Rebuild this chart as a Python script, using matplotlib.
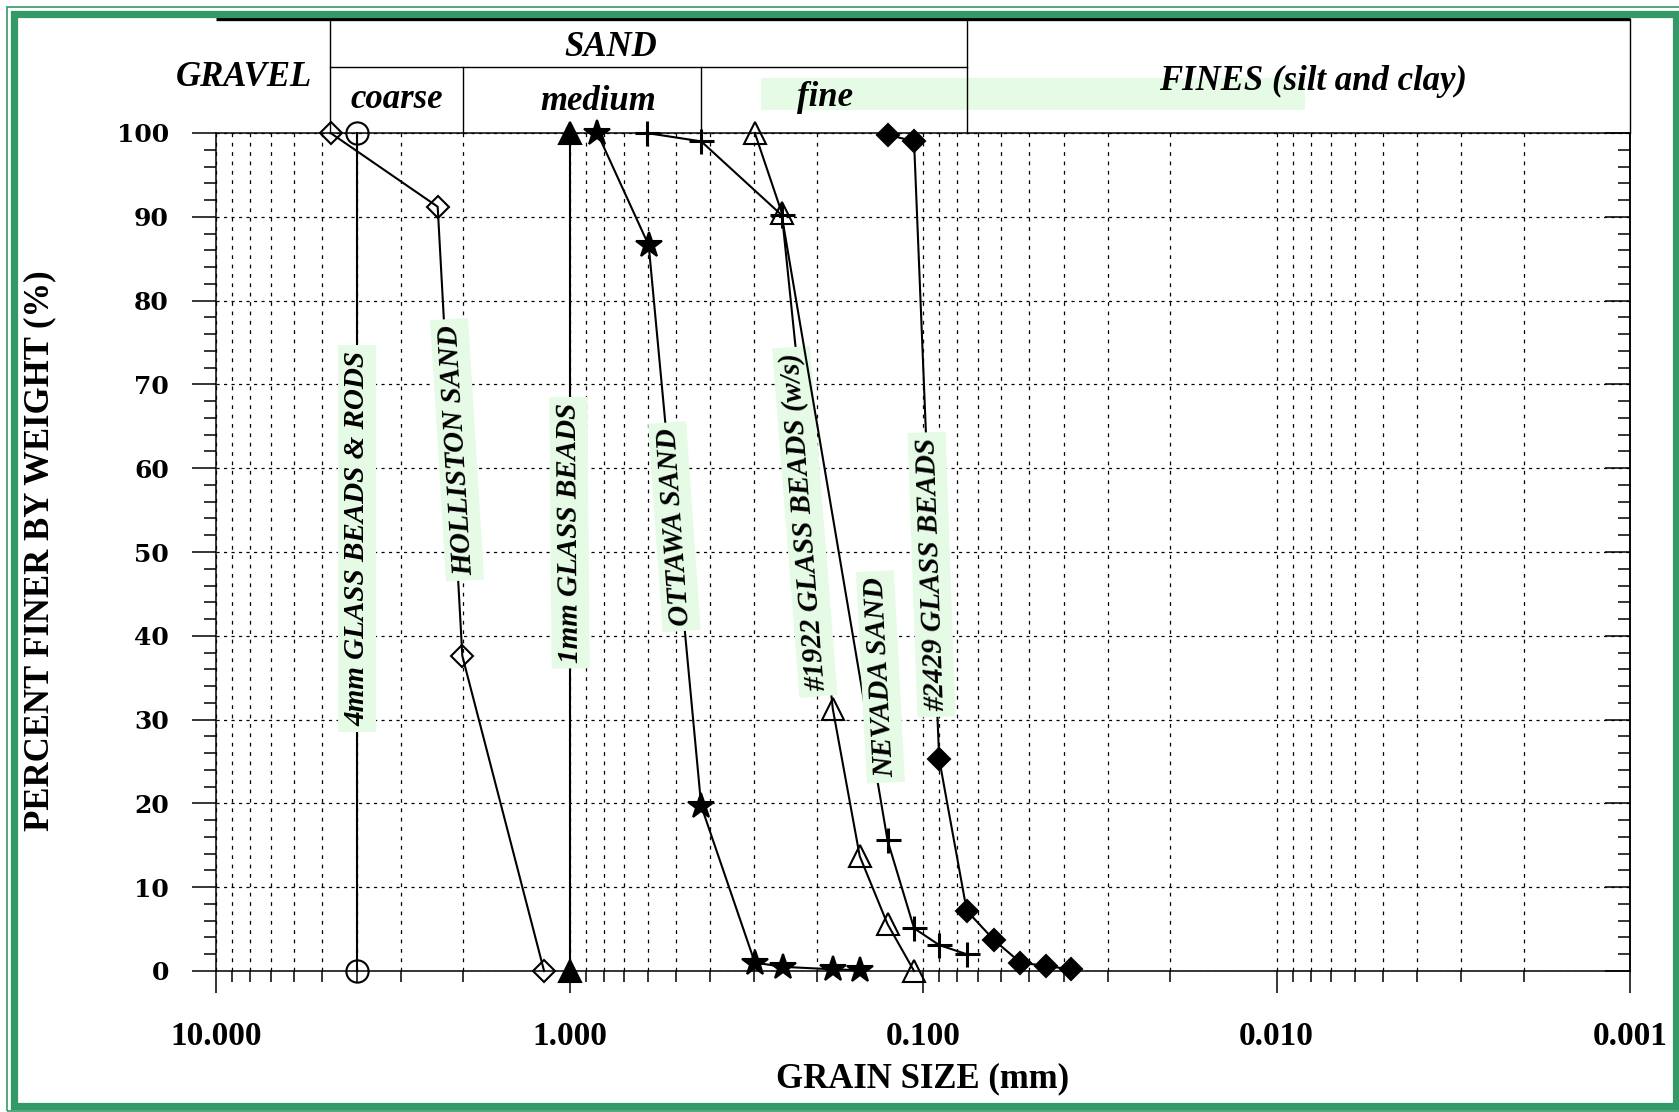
import matplotlib
matplotlib.use("Agg")
import matplotlib.pyplot as plt
from matplotlib.ticker import FixedLocator, MultipleLocator, NullFormatter
from matplotlib.patches import Rectangle

# grain size (mm) and percent finer by weight for each material
gb4_size = [4.0, 4.0]
gb4_pct = [100, 0]
holliston_size = [4.74, 2.36, 2.01, 1.18]
holliston_pct = [100, 91.2, 37.6, 0]
gb1_size = [1.0, 1.0]
gb1_pct = [100, 0]
ottawa_size = [0.834, 0.597, 0.424, 0.299, 0.249, 0.180, 0.151]
ottawa_pct = [100, 86.6, 19.7, 1.0, 0.5, 0.2, 0.1]
gb1922_size = [0.299, 0.251, 0.180, 0.151, 0.126, 0.106]
gb1922_pct = [100, 90.5, 31.3, 13.7, 5.6, 0]
nevada_size = [0.605, 0.424, 0.251, 0.126, 0.106, 0.090, 0.0752]
nevada_pct = [100, 99.0, 90.2, 15.6, 5.1, 3.1, 2.0]
gb2429_size = [0.126, 0.106, 0.090, 0.0752, 0.063, 0.053, 0.0449, 0.0382]
gb2429_pct = [99.8, 99.0, 25.3, 7.2, 3.7, 1.0, 0.6, 0.2]

# soil classes (boundaries in mm)
gravel_sand = 4.75
coarse_medium = 2.0
medium_fine = 0.425
sand_fines = 0.075

xtick_vals = [10, 1, 0.1, 0.01, 0.001]
xtick_labels = ["10.000", "1.000", "0.100", "0.010", "0.001"]

SERIF = "Liberation Serif"
GREEN = "#339966"
LABEL_BG = "#e5fbe5"

W, H = 1679, 1112
fig = plt.figure(figsize=(W / 100, H / 100), dpi=100)
fig.patch.set_facecolor("white")

def px(x, y):
    """pixel (from top-left) to figure fraction"""
    return x / W, 1 - y / H

ax = fig.add_axes([216 / W, 1 - 971 / H, (1630 - 216) / W, (971 - 133) / H])
ax.set_xscale("log")
ax.set_xlim(10, 0.001)
ax.set_ylim(0, 100)

ax.xaxis.set_major_locator(FixedLocator(xtick_vals))
ax.xaxis.set_minor_locator(FixedLocator(
    [m * 10.0 ** e for e in range(-3, 1) for m in range(2, 10)]))
ax.xaxis.set_minor_formatter(NullFormatter())
ax.set_xticklabels(xtick_labels)
ax.yaxis.set_major_locator(MultipleLocator(10))
ax.yaxis.set_minor_locator(MultipleLocator(2))

ax.grid(which="both", axis="x", color="black", linestyle=(0, (3, 4.5)), linewidth=0.9)
ax.grid(which="major", axis="y", color="black", linestyle=(0, (2.5, 3.5)), linewidth=0.9)

ax.tick_params(axis="x", which="major", direction="out", length=16, width=1.1, pad=20,
               top=False, labelsize=24)
ax.tick_params(axis="x", which="minor", direction="out", length=8, width=1.1, top=False)
ax.tick_params(axis="y", which="major", direction="out", length=17, width=1.1, pad=17,
               right=False, labelsize=18)
ax.tick_params(axis="y", which="minor", direction="out", length=8.5, width=1.1, right=False)
for lab in ax.get_xticklabels():
    lab.set_family(SERIF)
    lab.set_weight("bold")
for lab in ax.get_yticklabels():
    lab.set_family("DejaVu Serif")
    lab.set_weight("bold")

ax2 = ax.secondary_yaxis("right")
ax2.yaxis.set_major_locator(MultipleLocator(10))
ax2.yaxis.set_minor_locator(MultipleLocator(2))
ax2.tick_params(which="major", direction="in", length=18, width=1.1, labelright=False)
ax2.tick_params(which="minor", direction="in", length=8.5, width=1.1)
ax2.spines["right"].set_linewidth(1.1)
for s in ax.spines.values():
    s.set_linewidth(1.1)

series = [
    (gb4_size, gb4_pct, dict(marker="o", ms=16, mfc="none")),
    (holliston_size, holliston_pct, dict(marker="D", ms=11, mfc="none")),
    (gb1_size, gb1_pct, dict(marker="^", ms=16, mfc="black")),
    (ottawa_size, ottawa_pct, dict(marker="*", ms=19, mfc="black")),
    (gb1922_size, gb1922_pct, dict(marker="^", ms=16, mfc="none")),
    (nevada_size, nevada_pct, dict(marker="+", ms=18, mew=2.2)),
    (gb2429_size, gb2429_pct, dict(marker="D", ms=11.5, mfc="black")),
]
labels = [
    ("4mm GLASS BEADS & RODS", 4.0, 51.6, 90),
    ("HOLLISTON SAND", 2.08, 62.2, 93.5),
    ("1mm GLASS BEADS", 1.0, 52.3, 90.5),
    ("OTTAWA SAND", 0.505, 53.0, 94),
    ("#1922 GLASS BEADS (w/s)", 0.216, 53.6, 94.5),
    ("NEVADA SAND", 0.132, 35.1, 93),
    ("#2429 GLASS BEADS", 0.0946, 47.3, 92),
]

for i, ((xs, ys, mk), (txt, lx, ly, rot)) in enumerate(zip(series, labels)):
    kw = dict(color="black", lw=1.5, mec="black", mew=1.5)
    kw.update(mk)
    ax.plot(xs, ys, clip_on=False, zorder=3 + 2 * i, **kw)
    ax.text(lx, ly, txt, rotation=rot, ha="center", va="center",
            rotation_mode="anchor", fontsize=21, family=SERIF,
            weight="bold", style="italic", zorder=4 + 2 * i,
            bbox=dict(facecolor=LABEL_BG, edgecolor="none", pad=4))

# classification header above the axes
tr = ax.get_xaxis_transform()
top_y = (971 - 19) / 838
mid_y = (971 - 67) / 838
hdr = dict(color="black", clip_on=False, transform=tr)
ax.plot([10, 0.001], [top_y, top_y], lw=2.4, solid_capstyle="butt", **hdr)
ax.plot([gravel_sand, sand_fines], [mid_y, mid_y], lw=1.0, **hdr)
for xv in [gravel_sand, sand_fines, 0.001]:
    ax.plot([xv, xv], [1.0, top_y], lw=1.0, **hdr)
for xv in [coarse_medium, medium_fine]:
    ax.plot([xv, xv], [1.0, mid_y], lw=1.0, **hdr)

fx, fy = px(761, 110)
fig.add_artist(Rectangle((fx, fy), (1305 - 761) / W, 32 / H,
                         transform=fig.transFigure, facecolor=LABEL_BG,
                         edgecolor="none", zorder=0))

head = dict(transform=tr, ha="center", va="center", family=SERIF, weight="bold",
            style="italic", fontsize=25)
ax.text(8.33, (971 - 78) / 838, "GRAVEL", **head)
ax.text(0.764, (971 - 48) / 838, "SAND", **head)
ax.text(3.08, (971 - 100) / 838, "coarse", **head)
ax.text(0.831, (971 - 102) / 838, "medium", **head)
ax.text(0.189, (971 - 98) / 838, "fine", **head)
ax.text(0.00789, (971 - 81) / 838, "FINES (silt and clay)", **head)

fig.text(*px(40, 551), "PERCENT FINER BY WEIGHT (%)", rotation=90, ha="center",
         va="center", family=SERIF, weight="bold", fontsize=25)
fig.text(*px(923, 1079), "GRAIN SIZE (mm)", ha="center", va="center",
         family=SERIF, weight="bold", fontsize=25)

# green double frame
x0, y0 = px(13.5, 1105.5)
fig.add_artist(Rectangle((x0, y0), 1662 / W, 1092 / H, transform=fig.transFigure,
                         fill=False, edgecolor=GREEN, lw=5.2))
x0, y0 = px(6.5, 1110.5)
fig.add_artist(Rectangle((x0, y0), 1680 / W, 1104 / H, transform=fig.transFigure,
                         fill=False, edgecolor=GREEN, lw=1.2))

fig.savefig("out.png", dpi=100)
